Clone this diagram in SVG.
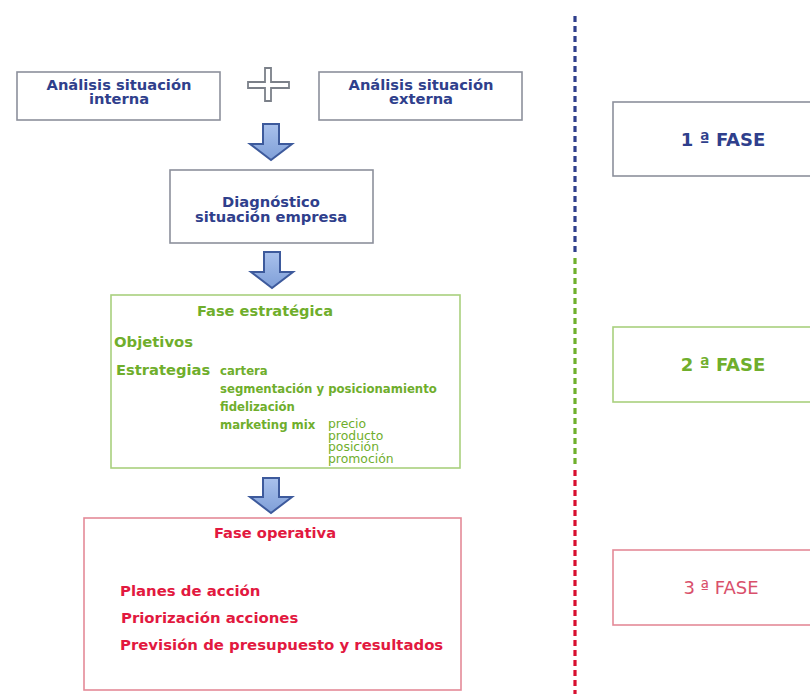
<svg xmlns="http://www.w3.org/2000/svg" width="810" height="694" viewBox="0 0 810 694">
<style>
.b{font-family:"DejaVu Sans","Liberation Sans",sans-serif;font-weight:bold}
.r{font-family:"DejaVu Sans","Liberation Sans",sans-serif;font-weight:normal}
.blue{fill:#2f3f8c}
.green{fill:#6fae2c}
.red{fill:#e2193f}
.boxb{fill:#fff;stroke:#8c909c;stroke-width:1.6}
.boxg{fill:#fff;stroke:#a9d07e;stroke-width:1.6}
.boxr{fill:#fff;stroke:#e48a98;stroke-width:1.6}
.arrow{fill:url(#ag);stroke:#3d5a9c;stroke-width:2;stroke-linejoin:miter}
.dash{stroke-width:3.2;stroke-dasharray:6 4;fill:none}
</style>
<defs>
<linearGradient id="ag" x1="0" y1="0" x2="0" y2="1">
<stop offset="0" stop-color="#a9c1ec"/>
<stop offset="1" stop-color="#7f9fd8"/>
</linearGradient>
</defs>
<rect width="810" height="694" fill="#fff"/>

<g id="connectors">
<path class="arrow" d="M263,124 H279 V144 H292 L271,160 L250,144 H263 Z"/>
<path class="arrow" d="M264,252 H280 V272 H293 L272,288 L251,272 H264 Z"/>
<path class="arrow" d="M263,478 H279 V497 H292 L271,513 L250,497 H263 Z"/>
<path d="M265,68 H271 V82 H289 V88 H271 V101 H265 V88 H248 V82 H265 Z" fill="#fff" stroke="#7b8089" stroke-width="1.8"/>
<line class="dash" x1="575" y1="16" x2="575" y2="255" stroke="#2f3f8c"/>
<line class="dash" x1="575" y1="258" x2="575" y2="468" stroke="#6fb02c"/>
<line class="dash" x1="575" y1="470" x2="575" y2="694" stroke="#d81030"/>
</g>

<g id="interna">
<rect class="boxb" x="17" y="72" width="203" height="48"/>
<text class="b blue" font-size="14.7" text-anchor="middle"><tspan x="119" y="90">Análisis situación</tspan><tspan x="119" y="104">interna</tspan></text>
</g>
<g id="externa">
<rect class="boxb" x="319" y="72" width="203" height="48"/>
<text class="b blue" font-size="14.7" text-anchor="middle"><tspan x="421" y="90">Análisis situación</tspan><tspan x="421" y="104">externa</tspan></text>
</g>
<g id="diagnostico">
<rect class="boxb" x="170" y="170" width="203" height="73"/>
<text class="b blue" font-size="14.7" text-anchor="middle"><tspan x="271" y="207">Diagnóstico</tspan><tspan x="271" y="222">situación empresa</tspan></text>
</g>
<g id="estrategica">
<rect class="boxg" x="111" y="295" width="349" height="173"/>
<text class="b green" font-size="14.6" x="265" y="316" text-anchor="middle">Fase estratégica</text>
<text class="b green" font-size="14.8" x="114" y="347">Objetivos</text>
<text class="b green" font-size="14.7" x="116" y="375">Estrategias</text>
<text class="b green" font-size="11.7"><tspan x="220" y="375">cartera</tspan><tspan x="220" y="393">segmentación y posicionamiento</tspan><tspan x="220" y="411">fidelización</tspan><tspan x="220" y="429">marketing mix</tspan></text>
<text class="r green" font-size="12.4"><tspan x="328" y="428">precio</tspan><tspan x="328" y="439.5">producto</tspan><tspan x="328" y="451">posición</tspan><tspan x="328" y="462.5">promoción</tspan></text>
</g>
<g id="operativa">
<rect class="boxr" x="84" y="518" width="377" height="172"/>
<text class="b red" font-size="14.7" x="275" y="538" text-anchor="middle">Fase operativa</text>
<text class="b red" font-size="14.9"><tspan x="120" y="596">Planes de acción</tspan><tspan x="121" y="623">Priorización acciones</tspan><tspan x="120" y="650">Previsión de presupuesto y resultados</tspan></text>
</g>
<g id="fase1">
<rect class="boxb" x="613" y="102" width="220" height="74"/>
<text class="b blue" font-size="18" x="723" y="146" text-anchor="middle">1 ª FASE</text>
</g>
<g id="fase2">
<rect class="boxg" x="613" y="327" width="220" height="75"/>
<text class="b green" font-size="18" x="723" y="371" text-anchor="middle">2 ª FASE</text>
</g>
<g id="fase3">
<rect class="boxr" x="613" y="550" width="220" height="75"/>
<text class="r" font-size="18" x="721" y="594" text-anchor="middle" fill="#d9506b">3 ª FASE</text>
</g>
</svg>
